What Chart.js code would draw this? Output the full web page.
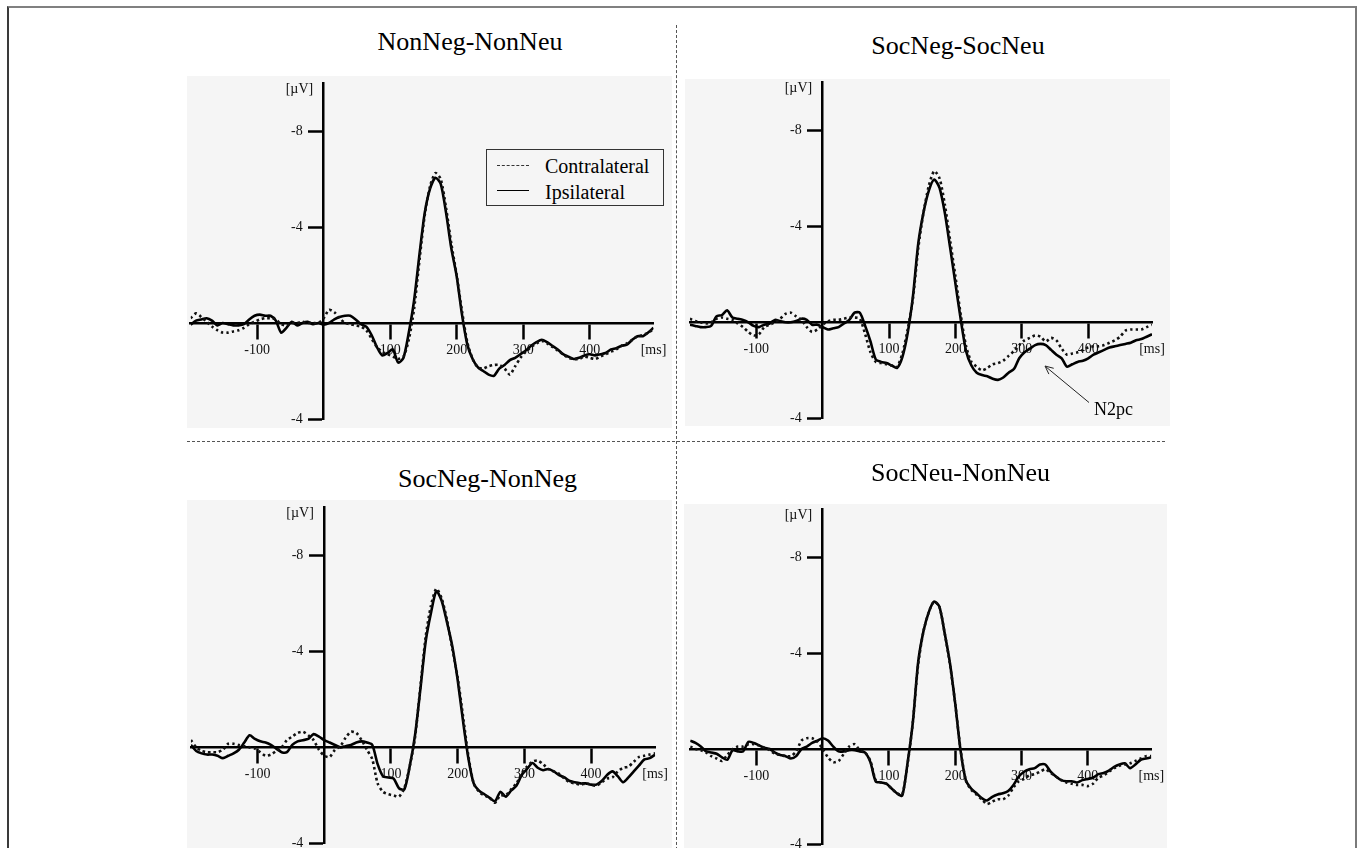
<!DOCTYPE html>
<html>
<head>
<meta charset="utf-8">
<script src="https://cdn.jsdelivr.net/npm/chart.js@4.4.1/dist/chart.umd.min.js"></script>
<style>
  html, body { margin: 0; padding: 0; background: #fff; width: 1357px; height: 848px; overflow: hidden; position: relative; }
  body { font-family: "Liberation Serif", "Times New Roman", serif; color: #000; }
  .frame { position: absolute; left: 7px; top: 6px; width: 1346px; height: 900px; border-top: 2px solid #808080; border-left: 2px solid #3a3a3a; border-right: 2px solid #7a7a7a; }
  .bg { position: absolute; background: #f5f5f5; }
  .title { position: absolute; font-size: 26px; line-height: 26px; white-space: nowrap; transform: translateX(-50%); }
  canvas { position: absolute; }
  .vdiv { position: absolute; left: 676px; top: 25px; height: 840px; border-left: 1px dashed #555; }
  .hdiv { position: absolute; left: 187px; top: 441px; width: 978px; border-top: 1px dashed #555; }
  .legend { position: absolute; left: 486px; top: 149px; width: 176px; height: 55px; border: 1px solid #333; background: #f5f5f5; }
  .legend .row { position: absolute; left: 0; height: 20px; font-size: 20px; line-height: 20px; white-space: nowrap; }
  .legend .swatch { position: absolute; left: 10px; width: 32px; }
  .legend .txt { position: absolute; left: 58px; top: 0; }
  .note { position: absolute; left: 1094px; top: 400px; font-size: 18px; line-height: 18px; }
  svg { position: absolute; left: 0; top: 0; }
</style>
</head>
<body>
<div class="frame"></div>
<div class="vdiv"></div>
<div class="hdiv"></div>

<script>
// time axis (ms), one sample every 8 ms
var times = [];
for (var t = -200; t <= 496; t += 8) times.push(t);

var panelTitles = ['NonNeg-NonNeu', 'SocNeg-SocNeu', 'SocNeg-NonNeg', 'SocNeu-NonNeu'];
var seriesLabels = ['Contralateral', 'Ipsilateral'];

var xTickValues = [-100, 100, 200, 300, 400];
var xUnitLabel = '[ms]';
var yTickValues = [-8, -4, 4];
var yTickLabels = ['-8', '-4', '-4'];
var yUnitValue = -9.75;
var yUnitLabel = '[\u00b5V]';

// values in µV (negative plotted up)
var nonNegNonNeuContra = [-0.2,-0.4,-0.25,-0.05,0.15,0.3,0.4,0.4,0.35,0.3, 0.2,0.05,-0.05,-0.15,-0.2,-0.2,-0.15,0.05,0.1,0.0, 0.0,-0.05,0.0,0.0,0.0,-0.2,-0.55,-0.45,-0.2,0.0, 0.05,0.1,0.15,0.3,0.65,1.0,1.2,1.3,1.4,1.5, 1.4,0.7,-0.6,-2.6,-4.5,-5.7,-6.25,-6.0,-4.8,-3.3, -2.0,-0.5,0.8,1.5,1.85,1.9,1.8,1.75,1.75,1.9, 2.15,1.8,1.45,1.2,1.0,0.85,0.75,0.85,1.0,1.15, 1.3,1.45,1.5,1.5,1.4,1.45,1.5,1.4,1.3,1.2, 1.1,0.95,0.85,0.7,0.55,0.5,0.4,0.25];
var nonNegNonNeuIpsi = [0.07,-0.1,-0.15,-0.2,-0.1,0.1,0.0,0.05,0.1,0.1, 0.05,-0.15,-0.3,-0.35,-0.3,-0.3,-0.1,0.4,0.2,-0.05, 0.1,0.0,-0.05,0.05,0.0,0.07,0.0,-0.15,-0.25,-0.3, -0.3,-0.15,0.05,0.15,0.5,1.0,1.35,1.25,1.1,1.65, 1.45,0.4,-0.95,-2.85,-4.6,-5.6,-6.05,-5.8,-4.6,-3.1, -1.95,-0.35,0.9,1.5,1.85,2.0,2.15,2.2,1.9,1.75, 1.55,1.45,1.3,1.15,0.95,0.8,0.7,0.8,0.95,1.1, 1.3,1.4,1.5,1.45,1.35,1.3,1.35,1.3,1.25,1.1, 1.05,0.95,0.9,0.7,0.55,0.55,0.4,0.2];

var socNegSocNeuContra = [-0.15,-0.05,0.0,0.05,0.0,-0.15,-0.2,-0.15,-0.1,0.05, 0.2,0.4,0.55,0.5,0.2,0.1,0.0,-0.15,-0.35,-0.4, -0.25,-0.1,0.2,0.4,0.3,0.1,-0.05,-0.1,-0.1,-0.15, -0.2,-0.2,-0.15,0.5,1.25,1.65,1.7,1.75,1.8,1.85, 1.3,0.3,-1.0,-3.1,-4.6,-5.7,-6.3,-6.0,-4.9,-3.4, -1.9,-0.3,1.0,1.65,1.85,2.0,1.9,1.75,1.7,1.6, 1.4,1.2,0.95,0.75,0.65,0.55,0.6,0.8,0.65,0.75, 1.1,1.35,1.3,1.25,1.15,1.05,1.0,1.0,0.95,0.85, 0.75,0.6,0.35,0.3,0.3,0.3,0.2,0.1];
var socNegSocNeuIpsi = [0.1,0.15,0.2,0.2,0.15,-0.25,-0.3,-0.5,-0.2,-0.15, -0.1,0.0,0.15,0.2,0.1,0.05,-0.1,-0.05,0.0,0.0, -0.05,-0.15,-0.1,0.1,0.1,0.2,0.3,0.25,0.2,0.05, -0.1,-0.4,-0.4,0.15,0.8,1.55,1.65,1.7,1.8,1.9, 1.45,0.45,-1.1,-3.3,-4.6,-5.5,-5.95,-5.6,-4.55,-3.1, -1.6,-0.1,1.2,1.8,2.1,2.2,2.25,2.35,2.4,2.3, 2.1,1.95,1.5,1.25,1.1,0.95,0.9,0.95,1.15,1.35, 1.5,1.85,1.75,1.65,1.6,1.5,1.35,1.25,1.15,1.05, 1.0,0.95,0.9,0.85,0.75,0.7,0.6,0.5];

var socNegNonNegContra = [-0.3,0.0,0.15,0.2,0.2,0.2,0.1,-0.15,-0.15,-0.1, -0.05,0.0,0.05,0.2,0.35,0.3,0.15,0.0,-0.3,-0.45, -0.6,-0.65,-0.5,-0.3,0.1,0.35,0.4,0.1,-0.05,-0.4, -0.65,-0.6,-0.3,0.1,0.5,1.5,1.85,1.95,2.0,2.05, 1.7,0.8,-0.4,-2.5,-4.6,-5.9,-6.6,-6.2,-5.3,-4.1, -2.9,-1.3,0.35,1.5,1.85,2.0,2.1,2.3,2.0,2.0, 1.75,1.5,1.1,0.8,0.6,0.55,0.7,0.9,1.0,1.1, 1.3,1.45,1.5,1.55,1.5,1.55,1.6,1.45,1.3,1.25, 1.0,0.85,0.8,0.6,0.4,0.35,0.3,0.25];
var socNegNonNegIpsi = [-0.1,0.15,0.25,0.3,0.3,0.35,0.45,0.35,0.25,0.1, -0.2,-0.5,-0.35,-0.25,-0.2,-0.1,0.05,0.2,0.2,-0.1, -0.25,-0.3,-0.35,-0.55,-0.45,-0.3,-0.2,-0.1,0.0,-0.05, -0.1,-0.2,-0.25,-0.2,-0.1,0.7,1.2,1.25,1.3,1.7, 1.75,0.8,-0.5,-2.4,-4.4,-5.6,-6.5,-6.1,-5.2,-4.2, -2.8,-1.1,0.45,1.5,1.8,1.95,2.1,2.25,1.85,2.05, 1.8,1.6,1.15,0.9,0.65,0.85,0.95,0.9,1.0,1.15, 1.25,1.4,1.45,1.5,1.5,1.55,1.55,1.4,1.15,1.0, 1.2,1.45,1.25,1.0,0.75,0.5,0.45,0.3];

var socNeuNonNeuContra = [-0.1,0.0,0.05,0.15,0.3,0.4,0.5,0.25,0.0,-0.1, -0.1,-0.2,-0.2,-0.15,-0.05,0.05,0.2,0.25,0.3,0.3, 0.1,-0.35,-0.45,-0.45,-0.3,0.0,0.35,0.55,0.5,0.2, -0.1,-0.2,0.05,0.15,0.5,1.3,1.4,1.45,1.65,1.85, 1.9,0.65,-1.1,-3.5,-4.9,-5.7,-6.15,-5.95,-4.85,-3.55, -1.9,0.0,1.3,1.7,1.9,2.1,2.3,2.2,2.1,2.1, 1.95,1.6,1.35,1.25,1.1,1.05,0.95,0.85,1.0,1.15, 1.3,1.4,1.45,1.5,1.5,1.55,1.45,1.2,1.1,0.95, 0.8,0.7,0.65,0.6,0.5,0.4,0.3,0.3];
var socNeuNonNeuIpsi = [-0.35,-0.25,-0.1,0.1,0.15,0.2,0.35,0.45,0.05,0.1, 0.1,-0.3,-0.25,-0.15,-0.05,0.0,0.15,0.25,0.3,0.4, 0.3,0.0,-0.1,-0.25,-0.35,-0.45,-0.35,-0.1,0.1,0.1, 0.05,0.05,0.1,0.15,0.55,1.35,1.4,1.45,1.65,1.85, 1.95,0.6,-1.1,-3.6,-4.9,-5.7,-6.15,-5.95,-4.85,-3.6, -1.9,0.05,1.3,1.65,1.85,2.05,2.15,2.0,1.9,1.85, 1.75,1.5,1.15,0.95,0.85,0.8,0.65,0.65,0.95,1.15, 1.3,1.35,1.35,1.4,1.3,1.25,1.2,1.05,1.0,0.9, 0.75,0.65,0.6,0.8,0.65,0.45,0.4,0.35];

// where each plot sits on the page: pixel of first/last time and of -10 / +4 µV
var panels = [
  { bg: [187, 76, 485, 352], area: { left: 190.7, right: 653.5, top: 83, bottom: 419 }, title: [470, 29], contra: nonNegNonNeuContra, ipsi: nonNegNonNeuIpsi },
  { bg: [685, 79, 485, 347], area: { left: 689.9, right: 1152, top: 82.3, bottom: 418.3 }, title: [958, 33], contra: socNegSocNeuContra, ipsi: socNegSocNeuIpsi },
  { bg: [187, 500, 485, 360], area: { left: 190.9, right: 655.1, top: 507, bottom: 843.5 }, title: [487.5, 465.5], contra: socNegNonNegContra, ipsi: socNegNonNegIpsi },
  { bg: [684, 504, 483, 360], area: { left: 690.2, right: 1151.3, top: 509.4, bottom: 844.8 }, title: [960.5, 460], contra: socNeuNonNeuContra, ipsi: socNeuNonNeuIpsi }
];

var serif = "'Liberation Serif', 'Times New Roman', serif";
var tMax = times[times.length - 1];

function pts(vals) {
  return times.map(function (t, i) { return { x: t, y: vals[i] }; });
}

panels.forEach(function (p, k) {
  var bg = document.createElement('div');
  bg.className = 'bg';
  bg.style.left = p.bg[0] + 'px'; bg.style.top = p.bg[1] + 'px';
  bg.style.width = p.bg[2] + 'px'; bg.style.height = p.bg[3] + 'px';
  document.body.appendChild(bg);

  var title = document.createElement('div');
  title.className = 'title';
  title.textContent = panelTitles[k];
  title.style.left = p.title[0] + 'px'; title.style.top = p.title[1] + 'px';
  document.body.appendChild(title);

  var pad = 40;
  var cl = Math.floor(p.area.left) - pad, ct = Math.floor(p.area.top) - pad;
  var cw = Math.ceil(p.area.right) + pad - cl, ch = Math.ceil(p.area.bottom) + pad - ct;
  var canvas = document.createElement('canvas');
  canvas.width = cw; canvas.height = ch;
  canvas.style.left = cl + 'px'; canvas.style.top = ct + 'px';
  document.body.appendChild(canvas);

  new Chart(canvas, {
    type: 'line',
    data: {
      datasets: [
        { label: seriesLabels[0], data: pts(p.contra), borderColor: '#111', borderWidth: 2.6, borderDash: [2.5, 3], pointRadius: 0, tension: 0.25, fill: false },
        { label: seriesLabels[1], data: pts(p.ipsi), borderColor: '#000', borderWidth: 2.6, pointRadius: 0, tension: 0.25, fill: false }
      ]
    },
    options: {
      responsive: false,
      animation: false,
      devicePixelRatio: 1,
      events: [],
      layout: { padding: { left: p.area.left - cl, top: p.area.top - ct, right: cl + cw - p.area.right, bottom: ct + ch - p.area.bottom } },
      plugins: { legend: { display: false }, tooltip: { enabled: false } },
      scales: {
        x: {
          type: 'linear', min: times[0], max: tMax,
          position: { y: 0 },
          afterBuildTicks: function (s) { s.ticks = xTickValues.concat([tMax]).map(function (v) { return { value: v }; }); },
          ticks: {
            autoSkip: false, maxRotation: 0, color: '#111', padding: 4,
            font: { family: serif, size: 14 },
            callback: function (v) { return v === tMax ? xUnitLabel : String(v); }
          },
          grid: {
            drawOnChartArea: false, tickLength: 15, tickWidth: 2.5,
            tickColor: function (c) { return c.tick && c.tick.value === tMax ? 'rgba(0,0,0,0)' : '#000'; }
          },
          border: { color: '#000', width: 2.5 }
        },
        y: {
          type: 'linear', reverse: true, min: -10, max: 4,
          position: { x: 0 },
          afterBuildTicks: function (s) { s.ticks = yTickValues.concat([yUnitValue]).map(function (v) { return { value: v }; }); },
          ticks: {
            autoSkip: false, color: '#111', padding: 4,
            font: { family: serif, size: 14 },
            callback: function (v, i) { return i < yTickLabels.length ? yTickLabels[i] + '\u2003\u2002' : yUnitLabel + '\u2002\u2005'; }
          },
          grid: {
            drawOnChartArea: false, tickLength: 14, tickWidth: 2.5,
            tickColor: function (c) { return c.tick && c.tick.value === yUnitValue ? 'rgba(0,0,0,0)' : '#000'; }
          },
          border: { color: '#000', width: 2.5 }
        }
      }
    }
  });

  if (k === 0) {
    var lg = document.createElement('div');
    lg.className = 'legend';
    seriesLabels.forEach(function (name, j) {
      var row = document.createElement('div');
      row.className = 'row';
      row.style.top = (6 + j * 25.6) + 'px';
      row.style.width = '100%';
      var sw = document.createElement('div');
      sw.className = 'swatch';
      sw.style.top = (9 - j * 0.5) + 'px';
      sw.style.borderTop = j === 0 ? '1px dashed #333' : '1.5px solid #000';
      var tx = document.createElement('span');
      tx.className = 'txt';
      tx.textContent = name;
      row.appendChild(sw); row.appendChild(tx);
      lg.appendChild(row);
    });
    document.body.appendChild(lg);
  }
});
</script>
<div class="note">N2pc</div>
<svg width="1357" height="848">
  <g stroke="#222" stroke-width="1" fill="none">
    <line x1="1089" y1="402.5" x2="1045.5" y2="366.5"/>
    <polyline points="1053.7,368.3 1045,366 1048.9,374.1"/>
  </g>
</svg>
</body>
</html>
